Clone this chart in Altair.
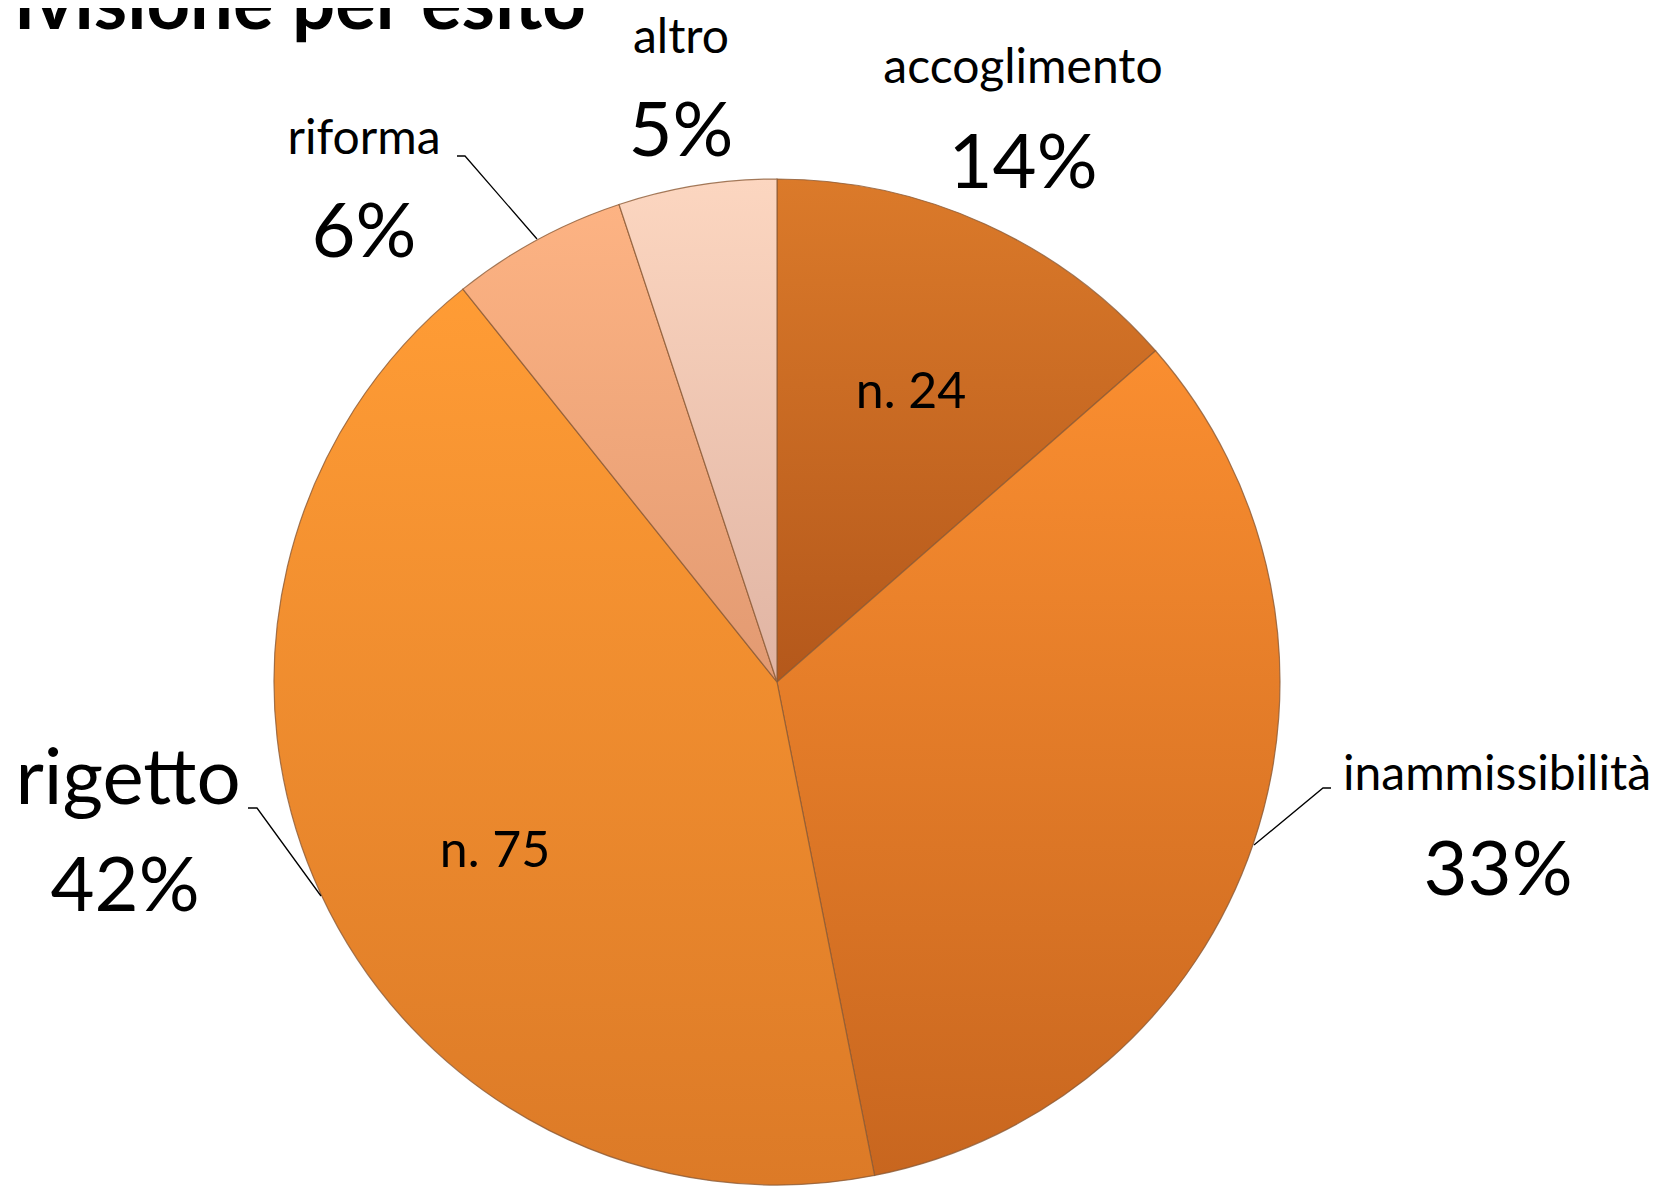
import altair as alt
import pandas as pd

# ---- data ----
categories = ["accoglimento", "inammissibilità", "rigetto", "riforma", "altro"]
counts = [24, 59, 75, 10, 9]
pct_labels = ["14%", "33%", "42%", "6%", "5%"]
inner_labels = ["n. 24", "", "n. 75", "", ""]
title_text = "ivisione per esito"

# ---- style: vertical gradient per slice (top colour, bottom colour) ----
grad_top = ["#DB7A2A", "#FA8E30", "#FF9C35", "#FDB383", "#FCD6C0"]
grad_bot = ["#B4581B", "#C8661F", "#DC7A27", "#E29A72", "#E0B4A3"]

# ---- layout (svg pixel coordinates) ----
CX, CY, R = 769, 674, 503
name_x = [1015, 1489, 120, 356, 673]
name_y = [75, 782, 796, 146, 45]
name_size = [48, 48, 78, 48, 48]
pct_x = [1015, 1490, 117, 356, 673]
pct_y = [180, 887, 903, 249, 148]
inner_x = [903, 0, 487, 0, 0]
inner_y = [400, 0, 859, 0, 0]
inner_size = 50
leader_pts = {
    "inammissibilità": [(1323, 780), (1315, 780), (1246, 837)],
    "rigetto": [(240, 800), (249, 800), (313, 888)],
    "riforma": [(449, 148), (457, 148), (529, 231)],
}

FONT = "Lato"

df = pd.DataFrame({"cat": categories, "value": counts, "idx": list(range(len(categories)))})


def grad(i):
    return {
        "gradient": "linear", "x1": 0, "y1": 0, "x2": 0, "y2": 1,
        "stops": [{"offset": 0, "color": grad_top[i]}, {"offset": 1, "color": grad_bot[i]}],
    }


fill_enc = {
    "condition": [
        {"test": f"datum.cat === '{c}'", "value": grad(i)}
        for i, c in enumerate(categories[:-1])
    ],
    "value": grad(len(categories) - 1),
}

arcs = alt.Chart(df).mark_arc(
    radius=R, stroke="#8C5A35", strokeWidth=1.2, strokeOpacity=0.8
).encode(
    theta=alt.Theta("value:Q", stack=True),
    order=alt.Order("idx:Q", sort="ascending"),
    fill=fill_enc,
    x=alt.value(CX),
    y=alt.value(CY),
)

names_df = pd.DataFrame({"t": categories, "x": name_x, "y": name_y, "s": name_size})
names = alt.Chart(names_df).mark_text(
    font=FONT, color="black", align="center", baseline="alphabetic"
).encode(
    x=alt.X("x:Q", scale=None), y=alt.Y("y:Q", scale=None),
    text="t:N", size=alt.Size("s:Q", scale=None, legend=None),
)

pcts_df = pd.DataFrame({"t": pct_labels, "x": pct_x, "y": pct_y})
pcts = alt.Chart(pcts_df).mark_text(
    font=FONT, fontSize=76, color="black", align="center", baseline="alphabetic"
).encode(x=alt.X("x:Q", scale=None), y=alt.Y("y:Q", scale=None), text="t:N")

inner_df = pd.DataFrame({"t": inner_labels, "x": inner_x, "y": inner_y})
inner_df = inner_df[inner_df["t"] != ""]
inner = alt.Chart(inner_df).mark_text(
    font=FONT, fontSize=inner_size, color="black", align="center", baseline="alphabetic"
).encode(x=alt.X("x:Q", scale=None), y=alt.Y("y:Q", scale=None), text="t:N")

rows = []
for c, pts in leader_pts.items():
    for k, (px, py) in enumerate(pts):
        rows.append({"cat": c, "k": k, "x": px, "y": py})
leaders = alt.Chart(pd.DataFrame(rows)).mark_line(color="black", strokeWidth=1.3).encode(
    x=alt.X("x:Q", scale=None), y=alt.Y("y:Q", scale=None),
    detail="cat:N", order="k:Q",
)

title_df = pd.DataFrame({"t": [title_text], "x": [7], "y": [21]})
title = alt.Chart(title_df).mark_text(
    font=FONT, fontSize=76, fontWeight="bold", color="black", align="left", baseline="alphabetic"
).encode(x=alt.X("x:Q", scale=None), y=alt.Y("y:Q", scale=None), text="t:N")

chart = alt.layer(arcs, leaders, names, pcts, inner, title).properties(
    width=1650, height=1179,
    autosize=alt.AutoSizeParams(type="none"),
    padding=0,
    background="white",
).configure_view(stroke=None)

chart.save("out.html", embed_options={"renderer": "svg", "actions": False})
